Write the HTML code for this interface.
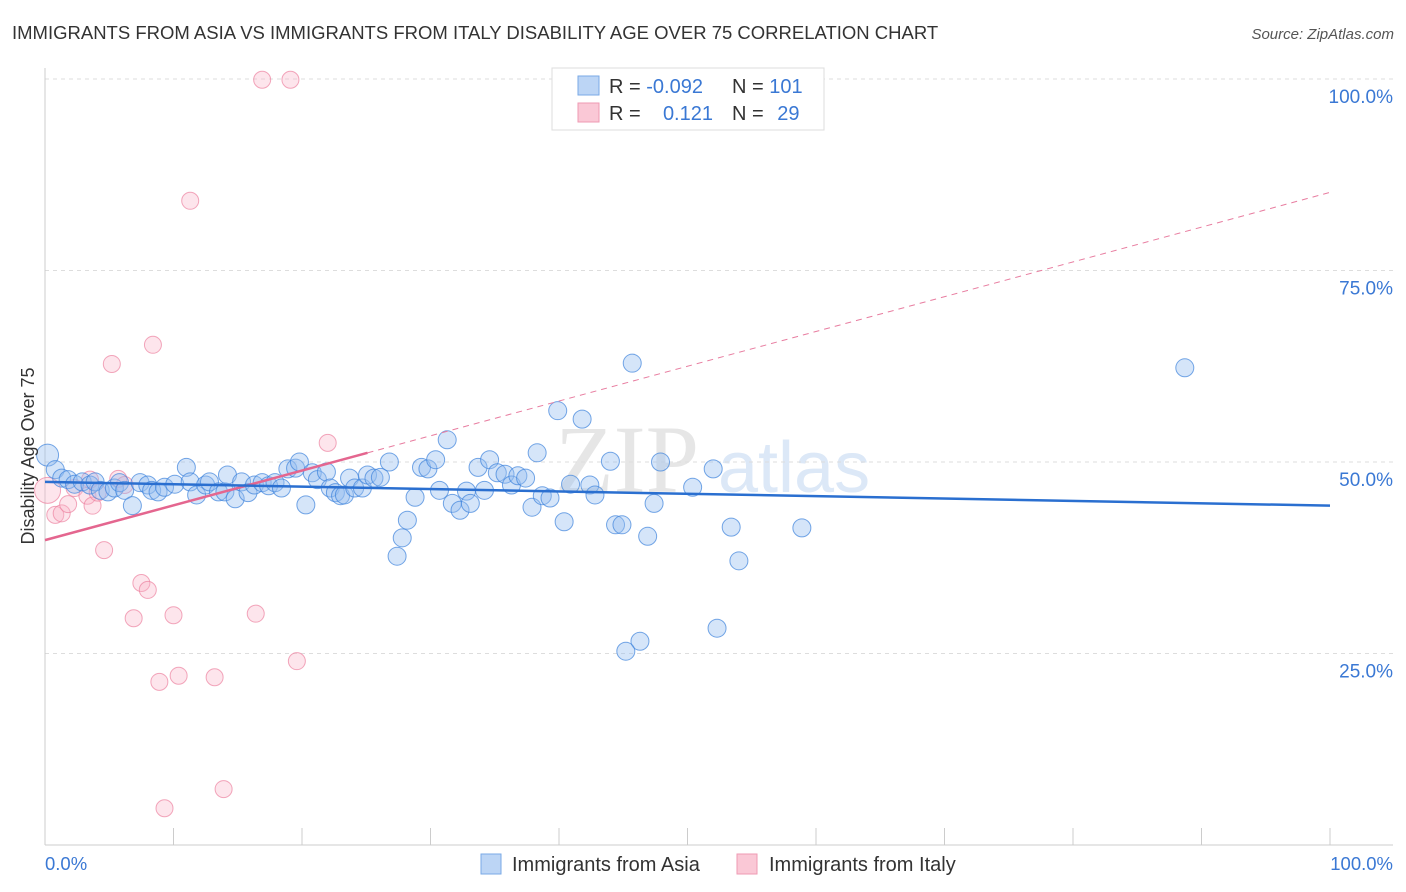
<!DOCTYPE html>
<html><head><meta charset="utf-8"><style>
body{margin:0;background:#fff;font-family:"Liberation Sans",sans-serif;}
svg{display:block}
</style></head><body>
<svg id="c" width="1406" height="892" xmlns="http://www.w3.org/2000/svg">
<text x="12" y="39" font-size="18.5" fill="#333">IMMIGRANTS FROM ASIA VS IMMIGRANTS FROM ITALY DISABILITY AGE OVER 75 CORRELATION CHART</text>
<text x="1394" y="39" font-size="15" fill="#555" font-style="italic" text-anchor="end">Source: ZipAtlas.com</text>
<text x="555" y="492" font-size="96" fill="#e6e6e6" font-family="Liberation Serif,serif">ZIP</text>
<text x="718" y="492" font-size="72" fill="#dce8f7">atlas</text>
<g id="grid"></g>
<g id="axes"></g>
<g id="marks"></g>
<text transform="translate(34,456) rotate(-90)" font-size="18" fill="#333" text-anchor="middle">Disability Age Over 75</text>
<g>
<rect x="552" y="68" width="272" height="62" fill="#fff" stroke="#ddd"/>
<rect x="578" y="76" width="21" height="19" fill="#bcd5f5" stroke="#7aa9e6"/>
<rect x="578" y="103" width="21" height="19" fill="#fac8d6" stroke="#ef9ab3"/>
<text x="609" y="93" font-size="20" fill="#333">R = <tspan fill="#3a78d4">-0.092</tspan></text>
<text x="732" y="93" font-size="20" fill="#333">N = <tspan fill="#3a78d4">101</tspan></text>
<text x="609" y="120" font-size="20" fill="#333">R = </text>
<text x="713" y="120" font-size="20" fill="#3a78d4" text-anchor="end">0.121</text>
<text x="732" y="120" font-size="20" fill="#333">N = <tspan fill="#3a78d4" dx="8">29</tspan></text>
</g>
<g>
<rect x="481" y="854" width="20" height="20" fill="#bcd5f5" stroke="#7aa9e6"/>
<text x="512" y="871" font-size="20" fill="#333">Immigrants from Asia</text>
<rect x="737" y="854" width="20" height="20" fill="#fac8d6" stroke="#ef9ab3"/>
<text x="769" y="871" font-size="20" fill="#333">Immigrants from Italy</text>
</g>
</svg>
<script>
const asiaX=[0.2,0.8,1.3,1.8,2.3,2.9,3.5,3.9,4.3,4.9,5.4,5.8,6.2,6.8,7.4,8.0,8.3,8.8,9.3,10.1,11.0,11.3,11.8,12.5,12.8,13.5,14.0,14.2,14.8,15.3,15.8,16.3,16.9,17.4,17.9,18.4,18.9,19.5,19.8,20.3,20.8,21.2,21.9,22.2,22.6,23.0,23.3,23.7,24.1,24.7,25.1,25.6,26.1,26.8,27.4,27.8,28.2,28.8,29.3,29.8,30.4,30.7,31.3,31.7,32.3,32.8,33.1,33.7,34.2,34.6,35.2,35.8,36.3,36.8,37.4,37.9,38.3,38.7,39.3,39.9,40.4,40.9,41.8,42.4,42.8,44.0,44.4,44.9,45.7,46.3,45.2,46.9,47.4,47.9,50.4,52.0,52.3,53.4,54.0,58.9,88.7];
const asiaY=[50.9,49.0,47.9,47.7,47.1,47.4,47.0,47.4,46.3,46.1,46.6,47.3,46.3,44.3,47.3,47.0,46.3,46.1,46.7,47.1,49.3,47.4,45.7,47.0,47.4,46.1,46.1,48.3,45.2,47.4,46.0,47.0,47.3,46.9,47.3,46.6,49.1,49.2,50.0,44.4,48.6,47.7,48.7,46.6,46.0,45.6,45.7,47.9,46.6,46.6,48.3,47.9,48.0,50.0,37.7,40.1,42.4,45.4,49.3,49.1,50.3,46.3,52.9,44.6,43.7,46.2,44.6,49.3,46.3,50.3,48.6,48.4,47.0,48.2,47.9,44.1,51.2,45.6,45.3,56.7,42.2,47.1,55.6,47.0,45.7,50.1,41.8,41.8,62.9,26.6,25.3,40.3,44.6,50.0,46.7,49.1,28.3,41.5,37.1,41.4,62.3];
const italyX=[0.2,0.8,1.3,1.8,2.3,3.3,3.7,4.1,4.6,5.2,5.7,6.2,7.5,8.0,8.4,6.9,8.9,10.0,10.4,11.3,13.2,13.9,16.4,16.9,19.1,19.6,22.0,9.3,3.5];
const italyY=[46.3,43.1,43.3,44.5,46.6,45.6,44.3,46.0,38.5,62.8,47.8,47.0,34.2,33.3,65.3,29.6,21.3,30.0,22.1,84.1,21.9,7.3,30.2,99.9,99.9,24.0,52.5,4.8,47.7];
const yTicks=[25,50,75,100];
const yTickLabels=["25.0%","50.0%","75.0%","100.0%"];
const xTickLabels=["0.0%","100.0%"];
const asiaTrend=[47.4,44.3];
const italyTrend=[39.8,85.2];
const italySolidEnd=25.1;

const NS="http://www.w3.org/2000/svg";
const X=v=>45+v*12.85, Y=v=>845-v*7.66;
function mk(t,a,p){const e=document.createElementNS(NS,t);for(const k in a)e.setAttribute(k,a[k]);p.appendChild(e);return e;}
const grid=document.getElementById('grid'),axes=document.getElementById('axes'),marks=document.getElementById('marks');
yTicks.forEach((t,i)=>{
 const l=mk('line',{x1:45,x2:1393,y1:Y(t),y2:Y(t),stroke:'#ddd','stroke-dasharray':'4,4'},grid);
 
 
 const tx=mk('text',{x:1393,y:Y(t)+24,'font-size':19,fill:'#3a78d4','text-anchor':'end'},axes);
 tx.textContent=yTickLabels[i];
 
 
});
let a=mk('line',{x1:45,x2:45,y1:68,y2:845,stroke:'#ccc'},axes);


a=mk('line',{x1:45,x2:1393,y1:845,y2:845,stroke:'#ccc'},axes);


for(let i=1;i<=10;i++){const t=mk('line',{x1:X(i*10),x2:X(i*10),y1:828,y2:845,stroke:'#ccc'},axes);
 
 }
[[0,'start',45],[100,'end',1393]].forEach((d,i)=>{const t=mk('text',{x:d[2],y:870,'font-size':18.5,fill:'#3a78d4','text-anchor':d[1]},axes);t.textContent=xTickLabels[i];
 
 });
italyX.forEach((x,i)=>{const c=mk('circle',{cx:X(x),cy:Y(italyY[i]),r:i==0?13:8.5,fill:'rgba(248,180,200,0.35)',stroke:'rgba(236,130,160,0.7)','stroke-width':1},marks);
 
 });
asiaX.forEach((x,i)=>{const c=mk('circle',{cx:X(x),cy:Y(asiaY[i]),r:i==0?11:9,fill:'rgba(150,190,240,0.4)',stroke:'rgba(60,130,220,0.7)','stroke-width':1},marks);
 
 });
const iy=x=>italyTrend[0]+(italyTrend[1]-italyTrend[0])*x/100;
let l=mk('line',{x1:X(italySolidEnd),y1:Y(iy(italySolidEnd)),x2:X(100),y2:Y(iy(100)),stroke:'#e87da0','stroke-width':1,'stroke-dasharray':'6,5'},marks);


l=mk('line',{x1:X(0),y1:Y(iy(0)),x2:X(italySolidEnd),y2:Y(iy(italySolidEnd)),stroke:'#e4668f','stroke-width':2.5},marks);


l=mk('line',{x1:X(0),y1:Y(asiaTrend[0]),x2:X(100),y2:Y(asiaTrend[1]),stroke:'#2a6fd0','stroke-width':2.5},marks);


</script>
</body></html>
